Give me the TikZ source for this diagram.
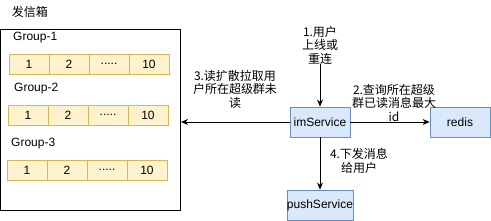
\documentclass[tikz,border=0pt]{standalone}
\usepackage{fontspec}
\setmainfont{Liberation Sans}
\newfontfamily\cjk{Noto Sans CJK SC}
\definecolor{cellfill}{RGB}{255, 242, 204}
\definecolor{celldraw}{RGB}{214, 182, 86}
\definecolor{svcfill}{RGB}{218, 232, 252}
\definecolor{svcdraw}{RGB}{108, 142, 191}
\newcommand{\celldots}{.....}
\usetikzlibrary{arrows.meta, positioning, calc}

\begin{document}
\begin{tikzpicture}[x=1pt, y=-1pt,
    every node/.style={font=\fontsize{12pt}{13.5pt}\selectfont, inner sep=0pt},
    cell/.style={draw=celldraw, fill=cellfill, line width=0.8pt, minimum width=40pt, minimum height=20pt},
    svc/.style={draw=svcdraw, fill=svcfill, line width=0.8pt, minimum width=60pt, minimum height=30pt},
    lbl/.style={align=center, font=\cjk\fontsize{12pt}{13.5pt}\selectfont},
    arr/.style={-{Stealth[length=7pt, width=6pt]}, line width=0.8pt}]
                \useasboundingbox (0,0) rectangle (491,221);

                % Outbox with groups
                \node[lbl] (title) at (30,12) {发信箱};
                \node[draw, line width=1pt, minimum width=180pt, minimum height=181pt] (outbox) at (90.5,120.5) {};
                \foreach \r/\x/\y/\gy/\gx in {1/9/64/38/13, 2/8/115/89/14, 3/7/170/144/11} {
                    \node[anchor=west] (group\r) at (\gx,\gy) {Group-\r};
                    \foreach \c/\t in {1/1, 2/2, 3/\celldots, 4/10} {
                        \node[cell] (g\r c\c) at (\x+40*\c-20,\y) {\t};
                    }
                }

                % Services
                \node[svc] (imService) at (320,122) {imService};
                \node[svc] (redis) at (460,122) {redis};
                \node[svc] (pushService) at (320,205) {pushService};

                % Flows
                \node[lbl] (step1) at (320,45) {1.用户\\上线或\\重连};
                \draw[arr] (step1) -- (imService);
                \draw[arr] (imService) -- (redis);
                \node[lbl] (step2) at (394,103) {2.查询所在超级\\群已读消息最大\\id};
                \draw[arr] (imService.west) -- (imService.west -| outbox.east);
                \node[lbl] (step3) at (235,89) {3.读扩散拉取用\\户所在超级群未\\读};
                \draw[arr] (imService) -- (pushService);
                \node[lbl] (step4) at (359,161) {4.下发消息\\给用户};
            \end{tikzpicture}
\end{document}
